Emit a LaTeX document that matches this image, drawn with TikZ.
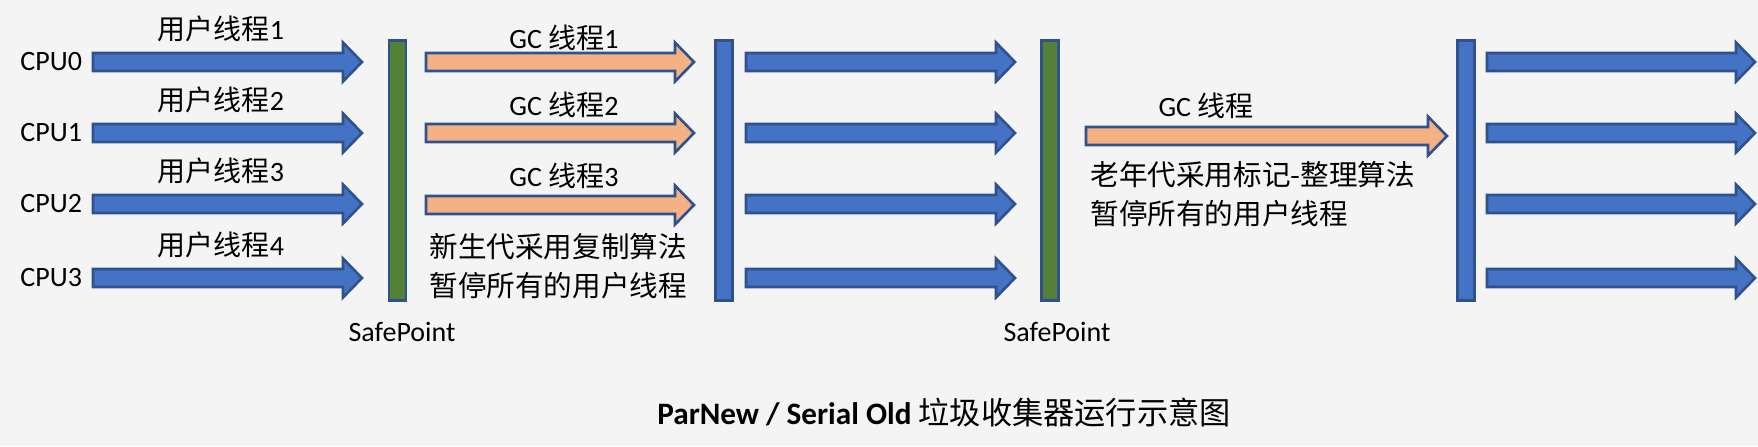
\documentclass[tikz,border=0pt]{standalone}
\usepackage{fontspec}
\setmainfont{Carlito}
\newfontfamily\cjk{Noto Sans CJK SC}
\newcommand{\zh}[1]{{\cjk #1}}
\usepackage{xcolor}
\usetikzlibrary{positioning}

\definecolor{bgGrey}{HTML}{F4F4F4}
\definecolor{cpuBlue}{HTML}{4472C4}
\definecolor{edgeBlue}{HTML}{2F528F}
\definecolor{gcOrange}{HTML}{F4B183}
\definecolor{safeGreen}{HTML}{538135}

% block arrow: style, tail x, tip x, centre y
\newcommand{\blockarrow}[4]{%
  \draw[#1] (#2,#4-9) -- (#3-19,#4-9) -- (#3-19,#4-19.5) -- (#3,#4)
    -- (#3-19,#4+19.5) -- (#3-19,#4+9) -- (#2,#4+9) -- cycle;}

\begin{document}
\begin{tikzpicture}[
  x=0.5pt, y=-0.5pt,
  cpuarrow/.style={draw=edgeBlue, fill=cpuBlue, line width=1.3pt, miter limit=4},
  gcarrow/.style={draw=edgeBlue, fill=gcOrange, line width=1.3pt, miter limit=4},
  bar/.style={rectangle, draw=edgeBlue, line width=1.3pt, inner sep=0pt,
              minimum width=8.5pt, minimum height=130pt},
  lbl/.style={inner sep=0pt, font=\fontsize{14}{17}\selectfont},
  note/.style={inner sep=0pt, align=left, font=\fontsize{14.3}{19.5}\selectfont},
]
\fill[bgGrey] (0,0) rectangle (1758,446);
\useasboundingbox (0,0) rectangle (1758,446);

% user threads
\foreach \y/\i in {62/0,133/1,204/2,278/3} {
  \blockarrow{cpuarrow}{93}{362}{\y}
  \node[lbl, anchor=west] (cpu\i) at (20,\y) {CPU\i};
}
\node[lbl] (ut1) at (221,29)  {\zh{用户线程}1};
\node[lbl] (ut2) at (221,100) {\zh{用户线程}2};
\node[lbl] (ut3) at (221,171) {\zh{用户线程}3};
\node[lbl] (ut4) at (221,245) {\zh{用户线程}4};

\node[bar, fill=safeGreen] (sp1) at (397.5,170.5) {};
\node[lbl] (sp1txt) at (402,332) {SafePoint};

% young gen gc
\foreach \y in {62,133,205} {
  \blockarrow{gcarrow}{426}{694}{\y}
}
\node[lbl] (gc1) at (564,38)  {GC \zh{线程}1};
\node[lbl] (gc2) at (564,105) {GC \zh{线程}2};
\node[lbl] (gc3) at (564,176) {GC \zh{线程}3};
\node[note, anchor=west] (young) at (429,266.5)
  {\zh{新生代采用复制算法}\\\zh{暂停所有的用户线程}};

\node[bar, fill=cpuBlue] (resume1) at (724,170.5) {};

\foreach \y in {62,133,204,278} {
  \blockarrow{cpuarrow}{746}{1015}{\y}
}

\node[bar, fill=safeGreen] (sp2) at (1050,170.5) {};
\node[lbl] (sp2txt) at (1057,332) {SafePoint};

% old gen gc
\blockarrow{gcarrow}{1086}{1447}{136}
\node[lbl] (gcold) at (1206,106) {GC \zh{线程}};
\node[note, anchor=west] (old) at (1090,194)
  {\zh{老年代采用标记-整理算法}\\\zh{暂停所有的用户线程}};

\node[bar, fill=cpuBlue] (resume2) at (1466,170.5) {};

\foreach \y in {62,133,204,278} {
  \blockarrow{cpuarrow}{1487}{1755}{\y}
}

\node[inner sep=0pt, font=\fontsize{15.6}{18}\selectfont] (title) at (944,413)
  {\textbf{ParNew / Serial Old} \zh{垃圾收集器运行示意图}};
\end{tikzpicture}
\end{document}
